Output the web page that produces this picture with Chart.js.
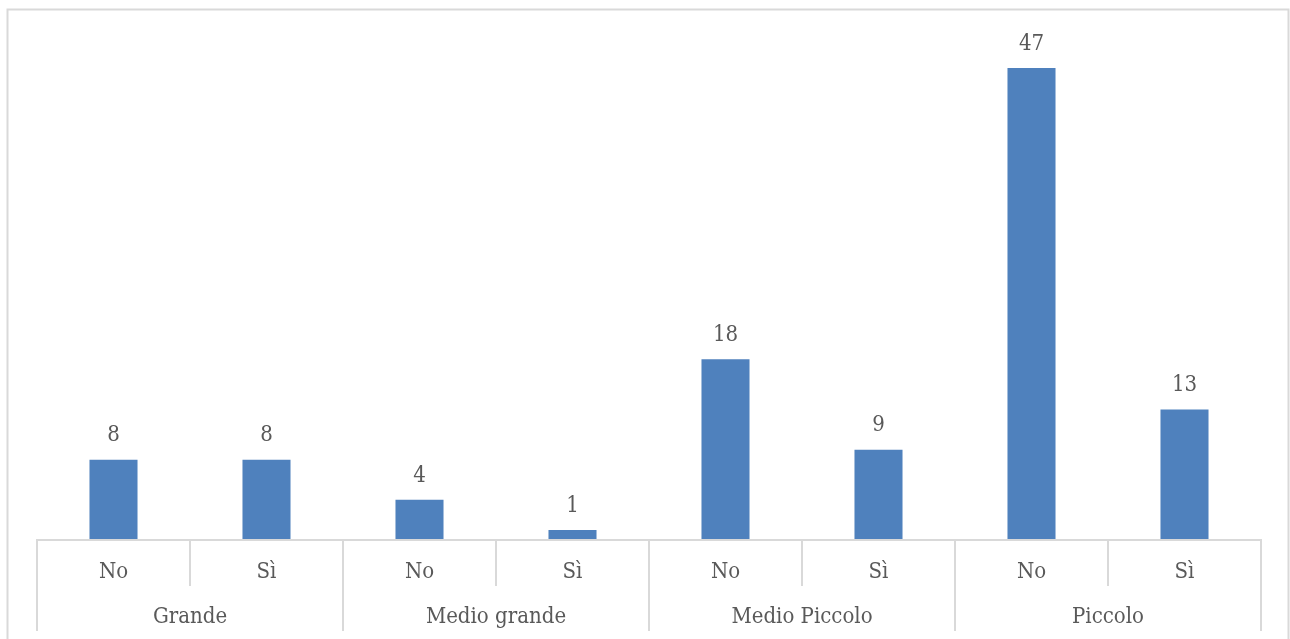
<!DOCTYPE html>
<html>
<head>
<meta charset="utf-8">
<script src="https://cdn.jsdelivr.net/npm/chart.js@4.4.1/dist/chart.umd.min.js"></script>
<style>
html,body{margin:0;padding:0;background:#fff;}
#wrap{width:1290px;height:639px;position:relative;}
</style>
</head>
<body>
<div id="wrap"><canvas id="c" width="1290" height="639"></canvas></div>
<script>
const subLabels = ["No", "Sì", "No", "Sì", "No", "Sì", "No", "Sì"];
const groupLabels = ["Grande", "Medio grande", "Medio Piccolo", "Piccolo"];
const groupSizes = [2, 2, 2, 2];
const values = [8, 8, 4, 1, 18, 9, 47, 13];

const FONT = '"DejaVu Serif Condensed", "DejaVu Serif", serif';
const TEXT = '#595959';
const LINE = '#d9d9d9';

const frame = {
  id: 'frame',
  beforeDraw(chart) {
    const ctx = chart.ctx;
    ctx.save();
    ctx.strokeStyle = LINE;
    ctx.lineWidth = 2;
    ctx.beginPath();
    ctx.moveTo(7.5, 645);
    ctx.lineTo(7.5, 9.5);
    ctx.lineTo(1288.5, 9.5);
    ctx.lineTo(1288.5, 645);
    ctx.stroke();
    ctx.restore();
  }
};

const axisPlugin = {
  id: 'multiAxis',
  afterDatasetsDraw(chart) {
    const ctx = chart.ctx;
    const x = chart.scales.x;
    const area = chart.chartArea;
    const base = area.bottom;
    const n = subLabels.length;
    const step = x.getPixelForValue(1) - x.getPixelForValue(0);
    const edge = i => x.getPixelForValue(i) - step / 2;
    ctx.save();
    ctx.strokeStyle = LINE;
    ctx.lineWidth = 2;
    ctx.beginPath();
    ctx.moveTo(edge(0), base);
    ctx.lineTo(edge(n), base);
    ctx.stroke();
    const groupEdges = new Set([0]);
    let acc = 0;
    groupSizes.forEach(s => { acc += s; groupEdges.add(acc); });
    for (let i = 0; i <= n; i++) {
      const px = Math.round(edge(i));
      ctx.beginPath();
      ctx.moveTo(px, base - 1);
      ctx.lineTo(px, groupEdges.has(i) ? base + 91 : base + 46);
      ctx.stroke();
    }
    ctx.fillStyle = TEXT;
    ctx.font = '22px ' + FONT;
    ctx.textAlign = 'center';
    ctx.textBaseline = 'middle';
    subLabels.forEach((l, i) => ctx.fillText(l, x.getPixelForValue(i), base + 32));
    let start = 0;
    groupLabels.forEach((g, j) => {
      const c = (edge(start) + edge(start + groupSizes[j])) / 2;
      ctx.fillText(g, c, base + 77);
      start += groupSizes[j];
    });
    const meta = chart.getDatasetMeta(0);
    meta.data.forEach((bar, i) => {
      ctx.fillText(String(values[i]), bar.x, bar.y - 24);
    });
    ctx.restore();
  }
};

new Chart(document.getElementById('c'), {
  type: 'bar',
  data: {
    labels: subLabels,
    datasets: [{
      data: values,
      backgroundColor: '#4f81bd',
      borderWidth: 0,
      categoryPercentage: 1,
      barPercentage: 0.314
    }]
  },
  options: {
    responsive: false,
    animation: false,
    events: [],
    layout: { padding: { left: 37, right: 29, top: 38, bottom: 99 } },
    plugins: { legend: { display: false }, tooltip: { enabled: false } },
    scales: {
      x: { display: false, offset: true },
      y: { display: false, min: 0, max: 50 }
    }
  },
  plugins: [frame, axisPlugin]
});
</script>
</body>
</html>
